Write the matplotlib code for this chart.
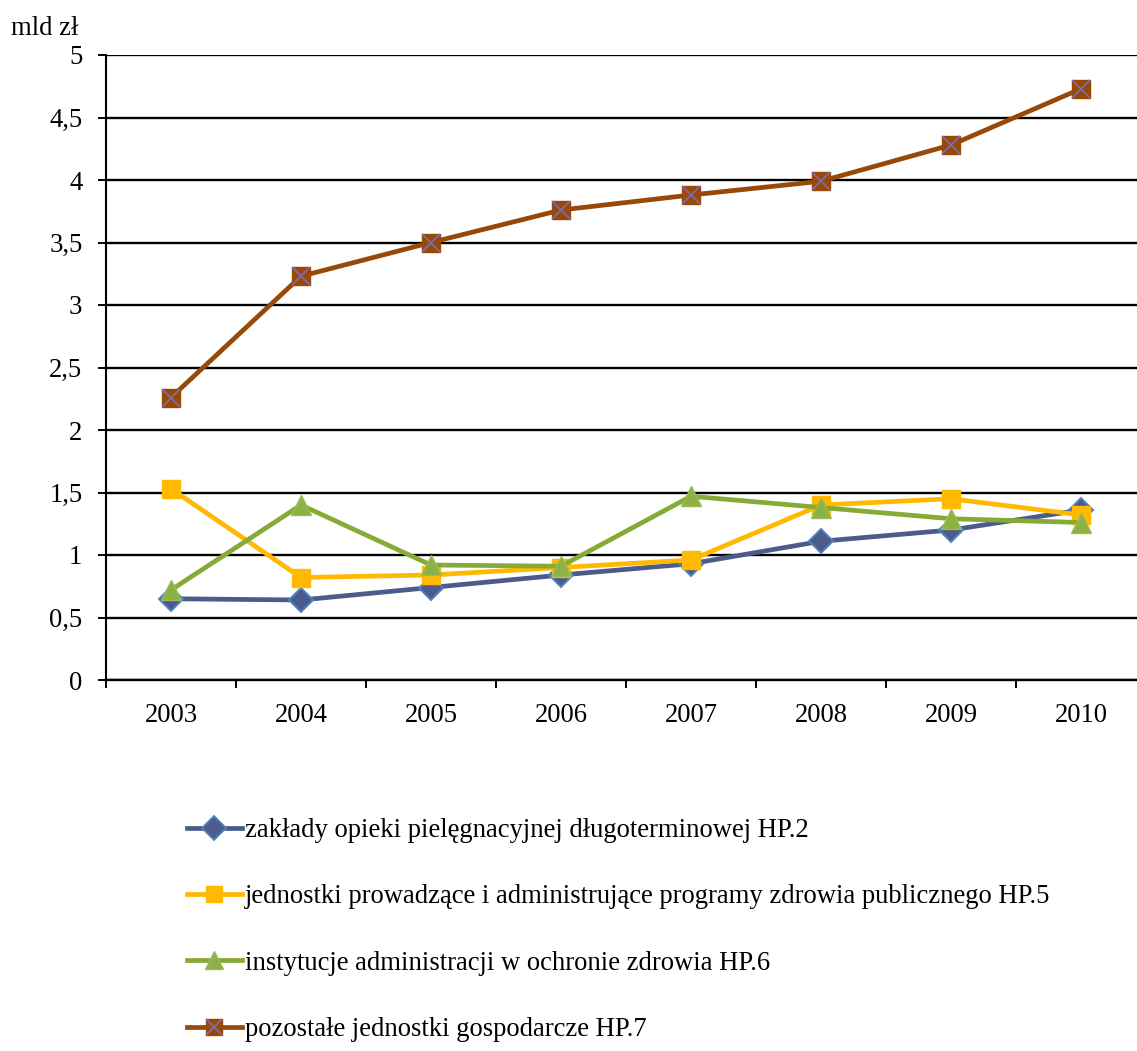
import matplotlib
matplotlib.use("Agg")
import matplotlib.pyplot as plt
from matplotlib.lines import Line2D
from matplotlib.legend_handler import HandlerTuple

years = ["2003", "2004", "2005", "2006", "2007", "2008", "2009", "2010"]
hp2 = [0.65, 0.64, 0.74, 0.84, 0.93, 1.11, 1.20, 1.36]
hp5 = [1.53, 0.82, 0.84, 0.90, 0.96, 1.40, 1.45, 1.32]
hp6 = [0.72, 1.40, 0.92, 0.91, 1.47, 1.38, 1.29, 1.26]
hp7 = [2.26, 3.23, 3.50, 3.76, 3.88, 3.99, 4.28, 4.73]
labels = [
    "zakłady opieki pielęgnacyjnej długoterminowej HP.2",
    "jednostki prowadzące i administrujące programy zdrowia publicznego HP.5",
    "instytucje administracji w ochronie zdrowia HP.6",
    "pozostałe jednostki gospodarcze HP.7",
]
yticks = [0, 0.5, 1, 1.5, 2, 2.5, 3, 3.5, 4, 4.5, 5]
ytick_labels = ["0", "0,5", "1", "1,5", "2", "2,5", "3", "3,5", "4", "4,5", "5"]

plt.rcParams['font.family'] = ['Liberation Serif', 'DejaVu Serif']
FS = 19.2

W, H = 1137, 1051
fig = plt.figure(figsize=(W / 100, H / 100), dpi=100)
left, right, top, bottom = 106, 1146, 55, 680
ax = fig.add_axes([left / W, 1 - bottom / H, (right - left) / W, (bottom - top) / H])

x = list(range(len(years)))
c_blue, c_blue_e = "#4A5B8C", "#4F81BD"
c_or = "#FFB900"
c_gr, c_gr_m, c_gr_e = "#86AA36", "#8DB145", "#9BBB59"
c_br, c_x = "#984807", "#7F6BAA"
lw = 3.4

ax.plot(x, hp2, color=c_blue, lw=lw, marker="D", ms=12.5, mfc=c_blue, mec=c_blue_e, mew=1.4, zorder=3)
ax.plot(x, hp5, color=c_or, lw=lw, marker="s", ms=13.4, mfc=c_or, mec=c_or, zorder=4)
ax.plot(x, hp6, color=c_gr, lw=lw, marker="^", ms=14.5, mfc=c_gr_m, mec=c_gr_e, mew=1.0, zorder=5)
ax.plot(x, hp7, color=c_br, lw=lw, marker="s", ms=13.4, mfc=c_br, mec=c_br, zorder=6)
ax.plot(x, hp7, linestyle="none", marker="x", ms=13.4, mec=c_x, mew=1.3, zorder=7)

ax.set_xlim(-0.5, len(years) - 0.5)
ax.set_ylim(0, 5)
ax.set_yticks(yticks)
ax.set_yticklabels(ytick_labels, fontsize=FS)
ax.set_xticks(x)
ax.set_xticklabels(years, fontsize=FS)
ax.tick_params(axis="x", length=0, pad=16.5)
ax.set_xticks([i - 0.5 for i in range(len(years) + 1)], minor=True)
ax.tick_params(axis="x", which="minor", length=6, width=1.4, direction="out", color="black")
ax.tick_params(axis="y", length=6, width=1.4, direction="out", pad=11)
ax.grid(axis="y", color="black", lw=1.7, zorder=0)
for s in ["top", "right"]:
    ax.spines[s].set_visible(False)
ax.spines["left"].set_linewidth(1.5)
ax.spines["bottom"].set_linewidth(1.7)
ax.set_axisbelow(True)

fig.text(11 / W, 1 - 35 / H, "mld zł", fontsize=FS, ha="left", va="baseline")

handles = [
    Line2D([], [], color=c_blue, lw=lw, marker="D", ms=12, mfc=c_blue, mec=c_blue_e, mew=1.3),
    Line2D([], [], color=c_or, lw=lw, marker="s", ms=12, mfc=c_or, mec=c_or),
    Line2D([], [], color=c_gr, lw=lw, marker="^", ms=13, mfc=c_gr_m, mec=c_gr_e),
    (Line2D([], [], color=c_br, lw=lw, marker="s", ms=12, mfc=c_br, mec=c_br),
     Line2D([], [], linestyle="none", marker="x", ms=12, mec=c_x, mew=1.3)),
]
fig.legend(handles, labels, loc="upper left",
           bbox_to_anchor=(187 / W, 1 - 818 / H), frameon=False, fontsize=FS,
           handlelength=2.06, handletextpad=0.11, labelspacing=1.55, borderaxespad=0, borderpad=0,
           handler_map={tuple: HandlerTuple(ndivide=1)})

fig.savefig("out.png", dpi=100)
